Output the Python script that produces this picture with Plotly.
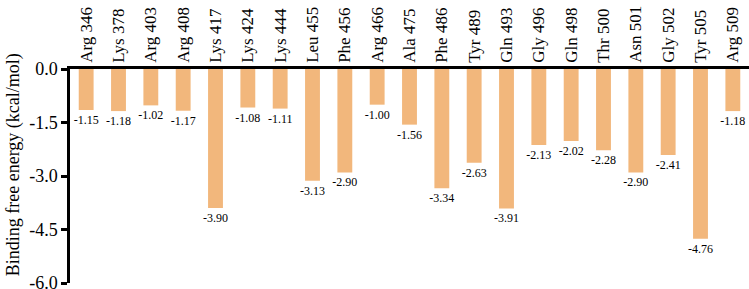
import plotly.graph_objects as go

residues = ["Arg 346", "Lys 378", "Arg 403", "Arg 408", "Lys 417", "Lys 424", "Lys 444",
            "Leu 455", "Phe 456", "Arg 466", "Ala 475", "Phe 486", "Tyr 489", "Gln 493",
            "Gly 496", "Gln 498", "Thr 500", "Asn 501", "Gly 502", "Tyr 505", "Arg 509"]
energies = [-1.15, -1.18, -1.02, -1.17, -3.90, -1.08, -1.11,
            -3.13, -2.90, -1.00, -1.56, -3.34, -2.63, -3.91,
            -2.13, -2.02, -2.28, -2.90, -2.41, -4.76, -1.18]
y_ticks = [0.0, -1.5, -3.0, -4.5, -6.0]

FONT = "Liberation Serif"

fig = go.Figure(go.Bar(
    x=residues, y=energies,
    marker=dict(color="#F2B77C", line=dict(width=0)),
    width=0.46,
    text=[f"{v:.2f}" for v in energies],
    textposition="outside",
    constraintext="none",
    textfont=dict(family=FONT, size=12, color="black"),
    cliponaxis=False,
    hoverinfo="skip",
))

fig.update_layout(
    width=749, height=289,
    margin=dict(l=70, r=0, t=69, b=6),
    paper_bgcolor="white", plot_bgcolor="white",
    showlegend=False,
    font=dict(family=FONT, color="black"),
    uniformtext=dict(minsize=12, mode="show"),
    xaxis=dict(
        side="top", tickangle=-90, showline=True, linecolor="black", linewidth=2.5,
        ticks="", tickfont=dict(family=FONT, size=17), showgrid=False,
        range=[-0.5, len(residues) - 0.5], automargin=False,
        ticklabeloverflow="allow",
    ),
    yaxis=dict(
        range=[-6.0, 0.0], tickvals=y_ticks, ticktext=[f"{v:.1f}" for v in y_ticks],
        showline=True, linecolor="black", linewidth=2.5, ticks="outside",
        ticklen=6, tickwidth=2.5, tickcolor="black",
        tickfont=dict(family=FONT, size=18), showgrid=False, zeroline=False,
        automargin=False, ticklabeloverflow="allow",
    ),
    annotations=[dict(
        text="Binding free energy (kcal/mol)", textangle=-90,
        xref="paper", yref="paper", x=-57 / 679, y=0.55,
        xanchor="center", yanchor="middle", showarrow=False,
        font=dict(family=FONT, size=18, color="black"),
    )],
)

fig.write_html(
    "out.html",
    config={"displayModeBar": False},
    post_script="document.body.style.margin='0';document.body.style.overflow='hidden';",
)
